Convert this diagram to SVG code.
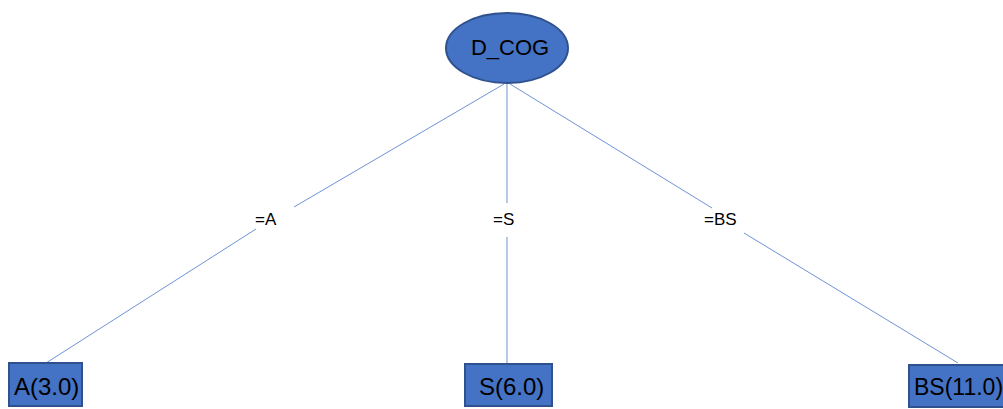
<svg xmlns="http://www.w3.org/2000/svg" width="1003" height="409" viewBox="0 0 1003 409">
<style>
.node{fill:#4472C4;stroke:#2F528F;stroke-width:2}
.lbl{font-family:"Liberation Sans",Arial,sans-serif;fill:#000}
.edge{stroke:#6F93D6;stroke-width:1;fill:none}
.elbl{font-family:"Liberation Sans",Arial,sans-serif;font-size:17px;fill:#000}
</style>
<rect width="1003" height="409" fill="#fff"/>
<g id="connectors">
<path class="edge" d="M504 84 L294 207 M256 229 L46 363"/>
<path class="edge" d="M507 84 L507 203 M507 237 L507 364"/>
<path class="edge" d="M510 84 L712 208 M744 233 L958 363"/>
<text class="elbl" x="255" y="225">=A</text>
<text class="elbl" x="493" y="225">=S</text>
<text class="elbl" x="704" y="225">=BS</text>
</g>
<g id="D_COG">
<ellipse class="node" cx="507" cy="48" rx="61" ry="35"/>
<text class="lbl" x="510" y="55" font-size="22" text-anchor="middle">D_COG</text>
</g>
<g id="A">
<rect class="node" x="9" y="363" width="73" height="43"/>
<text class="lbl" x="14" y="395" font-size="24">A(3.0)</text>
</g>
<g id="S">
<rect class="node" x="465" y="364" width="87" height="42"/>
<text class="lbl" x="479" y="395" font-size="24">S(6.0)</text>
</g>
<g id="BS">
<rect class="node" x="909" y="365" width="100" height="42"/>
<text class="lbl" x="914" y="395" font-size="23">BS(11.0)</text>
</g>
</svg>
